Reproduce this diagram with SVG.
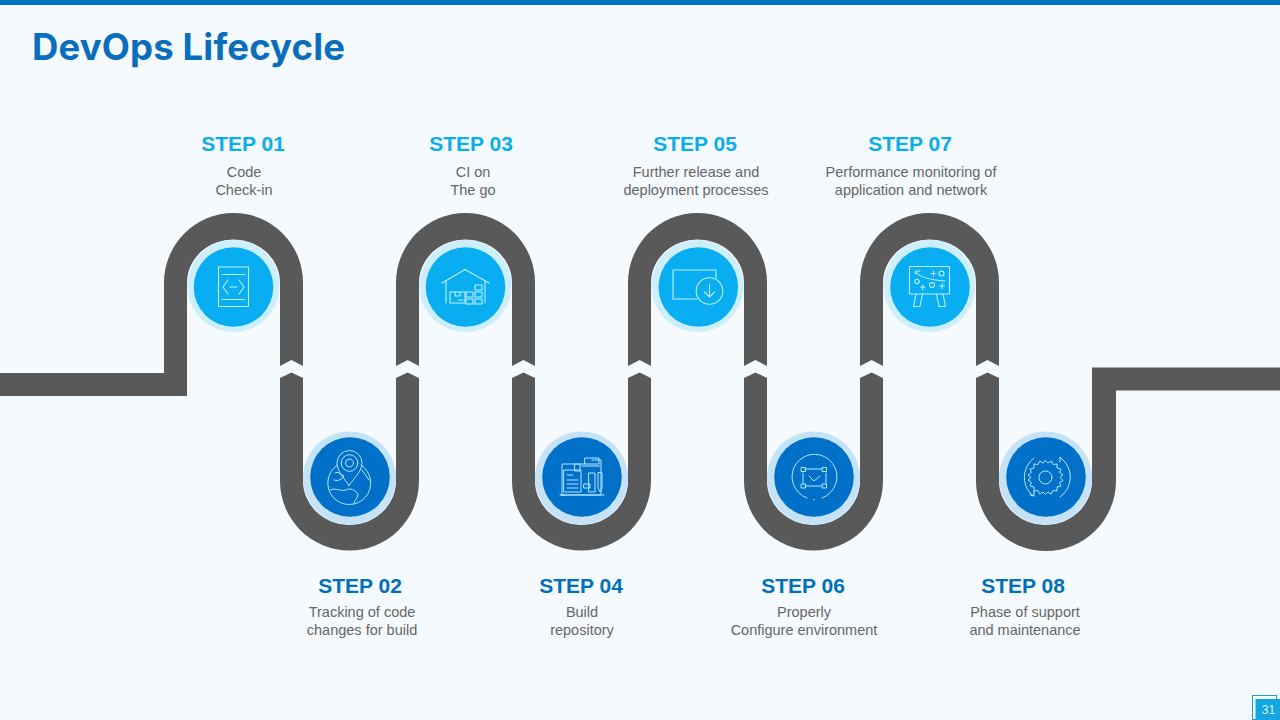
<svg xmlns="http://www.w3.org/2000/svg" width="1280" height="720" viewBox="0 0 1280 720">
<style>
.road{fill:#595959}
.ha{fill:#cdeffb}.hb{fill:#c4e3f8}
.ca{fill:#09aef2}.cb{fill:#0070c8}
.ic{fill:none;stroke:#bdf0fb;stroke-width:1.1;stroke-linecap:round;stroke-linejoin:round}
.icb{fill:none;stroke:#b4e6fa;stroke-width:1;stroke-linecap:round;stroke-linejoin:round}
.st{font:700 21px "Liberation Sans",Arial,sans-serif;text-anchor:middle}
.sa{fill:#0aaee8}.sb{fill:#0070b8}
.d{font:14.5px "Liberation Sans",Arial,sans-serif;fill:#666;text-anchor:middle}
</style>
<rect width="1280" height="720" fill="#f5faff"/>
<rect width="1280" height="5" fill="#0070c0"/>
<text x="32" y="59.500" font-family="Inter,sans-serif" font-weight="700" font-size="36.500" fill="#0a6ebd" textLength="313" lengthAdjust="spacing">DevOps Lifecycle</text>
<g id="connectors">
<path class="road" d="M0,373H164V282.5A69.5,69.5 0 0 1 303,282.5V366L291.5,360L280,366V282.5A46.5,43 0 0 0 187,282.5V396H0Z"/>
<path class="road" d="M280,378L291.5,372.5L303,378V481A46.5,44 0 0 0 396,481V378L407.5,372.5L419,378V481A69.5,69.5 0 0 1 280,481Z"/>
<path class="road" d="M396,366V282.5A69.5,69.5 0 0 1 535,282.5V366L523.5,360L512,366V282.5A46.5,43 0 0 0 419,282.5V366L407.5,360Z"/>
<path class="road" d="M512,378L523.5,372.5L535,378V481A46.5,44 0 0 0 628,481V378L639.5,372.5L651,378V481A69.5,69.5 0 0 1 512,481Z"/>
<path class="road" d="M628,366V282.5A69.5,69.5 0 0 1 767,282.5V366L755.5,360L744,366V282.5A46.5,43 0 0 0 651,282.5V366L639.5,360Z"/>
<path class="road" d="M744,378L755.5,372.5L767,378V481A46.5,44 0 0 0 860,481V378L871.5,372.5L883,378V481A69.5,69.5 0 0 1 744,481Z"/>
<path class="road" d="M860,366V282.5A69.5,69.5 0 0 1 999,282.5V366L987.5,360L976,366V282.5A46.5,43 0 0 0 883,282.5V366L871.5,360Z"/>
<path class="road" d="M976,378L987.5,372.5L999,378V481A46.5,44 0 0 0 1092,481V367.5H1280V390.5H1116V481A69.5,69.5 0 0 1 976,481Z"/>
</g>
<g id="step1">
<circle class="ha" cx="233.5" cy="286" r="46"/><circle class="ca" cx="233.5" cy="287" r="39.8"/>
<g class="ic"><rect x="218.5" y="267" width="30" height="39.5"/><path d="M222,274.5H245M222,299.5H245M228,280L223,287L228,294M239,280L244,287L239,294M230,287H237"/></g>
<text class="st sa" x="243" y="151">STEP 01</text>
<text class="d" x="244" y="177">Code</text><text class="d" x="244" y="195">Check-in</text>
</g>
<g id="step2">
<circle class="hb" cx="349.5" cy="478" r="46.5"/><circle class="cb" cx="350" cy="477" r="39.8"/>
<g class="icb"><path d="M349,485.5C344,478 337,471.5 337,463A12.5,12.5 0 0 1 362,463C362,471.5 354,478 349,485.5Z"/><circle cx="349.5" cy="463" r="8.3"/><circle cx="349.5" cy="463" r="4"/><path d="M337.5,465A21.5,21.5 0 1 0 361,465"/><path d="M335,473C338,471 340,474 344,476C341,481 336,481 334,480M330,490C336,487 340,492 346,490C350,487 356,491 358,494C358,499 354,500 354,503M362,470L369,480"/></g>
<text class="st sb" x="360" y="593">STEP 02</text>
<text class="d" x="362" y="617">Tracking of code</text><text class="d" x="362" y="635">changes for build</text>
</g>
<g id="step3">
<circle class="ha" cx="465.5" cy="286" r="46"/><circle class="ca" cx="465.5" cy="287" r="39.8"/>
<g class="ic"><path d="M442,283L465,269.5L489,283M446,281V303M485,281V303"/><rect x="450" y="292" width="15" height="11"/><path d="M455,292V296H460V292M458,300H463"/><rect x="466" y="292" width="7" height="5"/><rect x="466" y="299" width="7" height="5"/><rect x="475" y="292" width="7" height="5"/><rect x="475" y="299" width="7" height="5"/><rect x="475" y="285" width="7" height="5"/></g>
<text class="st sa" x="471" y="151">STEP 03</text>
<text class="d" x="473" y="177">CI on</text><text class="d" x="473" y="195">The go</text>
</g>
<g id="step4">
<circle class="hb" cx="581.5" cy="478" r="46.5"/><circle class="cb" cx="582" cy="477" r="39.8"/>
<g class="icb"><path d="M585,464H562V494M592,460H601V495H562M560,495H604M561,495H565"/><rect x="585" y="458" width="14" height="6"/><rect x="575" y="464" width="5" height="7"/><path d="M582,466H600"/><rect x="564" y="470" width="17" height="22"/><path d="M567,475H573M567,480H578M567,484H578M567,488H578"/><rect x="584" y="484" width="6" height="4"/><rect x="589" y="473" width="6" height="19"/><path d="M598,473V488L600,492L602,488V473Z"/></g>
<text class="st sb" x="581" y="593">STEP 04</text>
<text class="d" x="582" y="617">Build</text><text class="d" x="582" y="635">repository</text>
</g>
<g id="step5">
<circle class="ha" cx="697.5" cy="286" r="46"/><circle class="ca" cx="698.3" cy="287" r="39.8"/>
<g class="ic"><path d="M697,299H673V270H716V278"/><circle cx="709.5" cy="291" r="13.3"/><path d="M709.5,284V297M704.5,292L709.5,297L714.5,292"/></g>
<text class="st sa" x="695" y="151">STEP 05</text>
<text class="d" x="696" y="177">Further release and</text><text class="d" x="696" y="195">deployment processes</text>
</g>
<g id="step6">
<circle class="hb" cx="813.5" cy="478" r="46.5"/><circle class="cb" cx="814" cy="477" r="39.8"/>
<g class="icb"><path d="M807,498A22.5,22.5 0 1 1 822,498M813.5,499.5H814"/><path d="M805,469H822M826,473V483M822,486H805M803,483V473"/><rect x="801.5" y="467.500" width="4" height="4"/><rect x="822.500" y="467.500" width="4" height="4"/><rect x="801.5" y="484" width="4" height="4"/><rect x="822.500" y="484" width="4" height="4"/><path d="M809,476L814,481L820,476"/></g>
<text class="st sb" x="803" y="593">STEP 06</text>
<text class="d" x="804" y="617">Properly</text><text class="d" x="804" y="635">Configure environment</text>
</g>
<g id="step7">
<circle class="ha" cx="929.5" cy="286" r="46"/><circle class="ca" cx="930" cy="287" r="39.8"/>
<g class="ic"><rect x="909.5" y="266.500" width="40" height="27.500"/><path d="M916,272C920,278 932,280 945,281M915,274L916,271L920,271"/><path d="M931,273.500H936M933.500,271V276"/><circle cx="941.500" cy="273.500" r="2.500"/><circle cx="917" cy="281.500" r="2.200"/><path d="M920.500,287H925M922.800,285V289.500"/><circle cx="932" cy="285" r="2.500"/><path d="M939.500,286H944.500M942,283.500V288.500"/><path d="M916,294L913.500,306.500H920L922.500,294M936.500,294L939,306.500H945.500L943,294"/></g>
<text class="st sa" x="910" y="151">STEP 07</text>
<text class="d" x="911" y="177">Performance monitoring of</text><text class="d" x="911" y="195">application and network</text>
</g>
<g id="step8">
<circle class="hb" cx="1045.5" cy="478" r="46.5"/><circle class="cb" cx="1046" cy="477" r="39.8"/>
<g class="icb"><circle cx="1045.500" cy="477.500" r="6.500"/><path d="M1045.500,460.500L1048,463L1051.500,461L1053,464.500L1057,464L1057,468L1061,469L1059.500,472.500L1063,475L1060,477.500L1063,480.500L1059.500,482.500L1061,486L1057,487L1057,491L1053,490.500L1051.500,494L1048,492L1045.500,494.500L1043,492L1039.500,494L1038,490.500L1034,491L1034,487L1030,486L1031.500,482.500L1028,480L1031,477.500L1028,475L1031.500,472.500L1030,469L1034,468L1034,464L1038,464.500L1039.500,461L1043,463Z"/><path d="M1034,458A24,24 0 0 0 1031,494L1034,496M1034,491V496L1030,495"/><path d="M1060,497A24,24 0 0 0 1061,458M1060,462L1060,457L1064,461"/></g>
<text class="st sb" x="1023" y="593">STEP 08</text>
<text class="d" x="1025" y="617">Phase of support</text><text class="d" x="1025" y="635">and maintenance</text>
</g>
<g id="page">
<rect x="1252.500" y="695.500" width="24" height="24" fill="none" stroke="#1a9fd8"/>
<rect x="1255.500" y="699" width="24.500" height="21" fill="#14a6e0"/>
<text x="1268.500" y="713.500" font-family="'Liberation Sans',sans-serif" font-size="12" fill="#d8f4fc" text-anchor="middle">31</text>
</g>
</svg>
